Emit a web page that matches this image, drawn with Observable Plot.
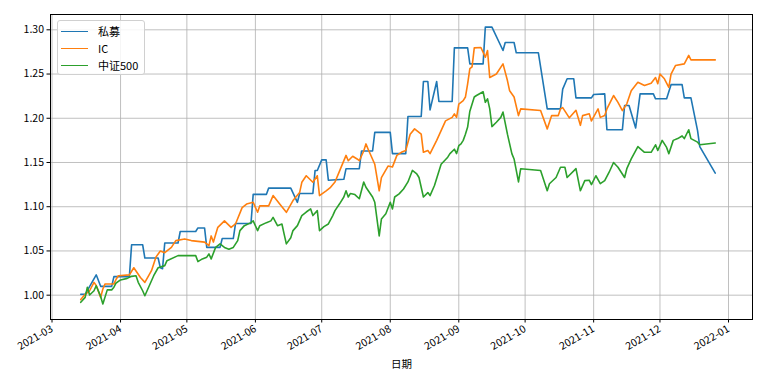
<!DOCTYPE html>
<html>
<head>
<meta charset="utf-8">
<script src="https://cdn.jsdelivr.net/npm/d3@7"></script>
<script src="https://cdn.jsdelivr.net/npm/@observablehq/plot@0.6"></script>
<style>
  html, body { margin: 0; padding: 0; background: white; }
  #wrap { position: relative; width: 780px; height: 371px; overflow: hidden; }
  #legend {
    position: absolute; left: 57px; top: 20px; width: 88px; height: 55px;
    box-sizing: border-box; border: 1px solid #d0d0d0; border-radius: 3px;
    background: rgba(255,255,255,0.85);
    font-family: "Noto Sans CJK SC", sans-serif; font-size: 11px; color: #000;
  }
  .row { position: absolute; left: 0; height: 14px; display: flex; align-items: center; }
  .sw { width: 27px; height: 0; border-top: 1.6px solid; margin-left: 3px; margin-right: 10px; }
</style>
</head>
<body>
<div id="wrap"><div id="chart"></div><div id="legend"></div></div>
<script>
// Series names and colours
const seriesNames = ["私募", "IC", "中证500"];
const seriesColors = ["#1f77b4", "#ff7f0e", "#2ca02c"];

// Day offsets from 2021-03-01 and values
const pmDays = [13,15,20,22,27,28,35,36,41,42,48,49,50,51,57,58,65,66,69,70,76,77,82,83,90,91,97,98,108,111,112,118,119,120,122,124,125,132,133,139,140,145,146,153,154,160,161,167,168,170,171,174,175,181,182,188,189,195,196,199,204,205,209,210,220,224,230,231,233,236,237,244,245,250,251,258,259,261,264,266,272,273,278,280,285,286,289,292,293,300];
const pmValues = [1.001,1.001,1.023,1.010,1.010,1.021,1.021,1.057,1.057,1.042,1.042,1.031,1.030,1.059,1.059,1.072,1.072,1.076,1.076,1.054,1.054,1.064,1.064,1.081,1.081,1.114,1.114,1.121,1.121,1.105,1.115,1.115,1.141,1.141,1.153,1.153,1.130,1.131,1.143,1.143,1.163,1.163,1.184,1.184,1.160,1.160,1.202,1.202,1.2415,1.2415,1.2095,1.2415,1.219,1.219,1.2796,1.2796,1.2615,1.2615,1.303,1.303,1.2766,1.2856,1.2856,1.274,1.274,1.2106,1.2106,1.233,1.2446,1.2446,1.223,1.223,1.2268,1.2276,1.187,1.187,1.2144,1.2144,1.189,1.2276,1.2276,1.222,1.222,1.238,1.238,1.223,1.223,1.186,1.168,1.138];

const icDays = [13,15,17,19,20,22,23,24,28,29,30,35,37,40,42,45,47,49,51,54,56,60,63,69,71,72,73,75,78,81,83,86,88,91,93,94,98,100,103,106,109,112,113,115,118,120,121,124,126,128,130,133,134,136,138,139,141,142,143,146,148,149,152,154,156,158,160,162,164,167,168,170,171,174,176,178,181,182,183,184,186,187,188,189,190,191,194,196,197,198,201,204,206,207,209,211,212,221,224,225,226,229,230,231,234,237,239,240,243,244,247,248,250,251,254,256,258,260,262,265,268,271,273,274,275,277,279,280,282,286,288,289,300];
const icValues = [0.995,1.001,1.005,1.0145,1.011,0.9975,1.007,1.0127,1.0127,1.018,1.022,1.023,1.031,1.020,1.0145,1.0277,1.043,1.050,1.048,1.054,1.0617,1.0636,1.0617,1.060,1.056,1.067,1.060,1.0767,1.084,1.0767,1.0805,1.099,1.103,1.105,1.0937,1.101,1.101,1.1126,1.103,1.0937,1.107,1.116,1.1276,1.135,1.1276,1.135,1.1126,1.118,1.122,1.128,1.140,1.158,1.152,1.157,1.154,1.152,1.163,1.171,1.165,1.148,1.118,1.133,1.146,1.145,1.158,1.1615,1.1635,1.182,1.188,1.182,1.1615,1.1635,1.160,1.175,1.186,1.197,1.201,1.205,1.201,1.216,1.220,1.224,1.239,1.256,1.258,1.2796,1.280,1.269,1.2766,1.246,1.250,1.2615,1.2426,1.231,1.224,1.203,1.2106,1.2087,1.188,1.1955,1.203,1.203,1.2106,1.212,1.2005,1.209,1.192,1.203,1.205,1.197,1.2106,1.201,1.203,1.2106,1.2257,1.218,1.2087,1.2163,1.231,1.2407,1.237,1.2396,1.246,1.239,1.250,1.2446,1.235,1.250,1.2596,1.2615,1.271,1.266,1.266];

const csiDays = [13,15,16,17,19,20,22,23,25,27,28,29,31,34,36,38,39,41,42,43,46,48,51,52,57,61,65,66,68,70,71,72,74,76,78,80,82,84,85,87,90,91,93,94,97,99,100,102,104,105,106,108,109,111,113,115,117,118,120,121,123,125,127,128,130,132,133,134,135,137,139,141,142,145,146,148,149,151,153,154,155,157,159,161,163,165,166,168,170,171,173,176,179,180,182,183,184,185,186,187,188,189,191,192,195,196,197,198,199,201,203,204,206,208,209,211,212,221,224,225,228,230,232,233,237,239,241,243,244,246,248,250,252,254,256,259,260,262,265,268,271,273,274,276,278,279,281,283,285,286,288,289,292,293,300];
const csiValues = [0.9919,0.9975,1.009,1.0002,1.005,1.0107,0.9986,0.990,1.006,1.006,1.009,1.0138,1.0172,1.019,1.0213,1.022,1.0145,1.005,0.9994,1.005,1.022,1.031,1.0334,1.039,1.0447,1.0447,1.0447,1.038,1.041,1.043,1.0466,1.041,1.054,1.058,1.054,1.052,1.054,1.0617,1.073,1.0786,1.082,1.084,1.073,1.0786,1.082,1.084,1.088,1.0786,1.0805,1.069,1.058,1.065,1.073,1.0786,1.090,1.094,1.0975,1.090,1.0956,1.073,1.0775,1.0805,1.090,1.0956,1.103,1.111,1.118,1.111,1.115,1.1137,1.109,1.128,1.122,1.111,1.105,1.067,1.086,1.092,1.105,1.0975,1.111,1.1145,1.120,1.128,1.141,1.137,1.133,1.111,1.116,1.1126,1.124,1.148,1.156,1.160,1.165,1.160,1.169,1.171,1.175,1.182,1.190,1.208,1.224,1.2257,1.230,1.218,1.222,1.2106,1.1906,1.1955,1.201,1.207,1.182,1.160,1.154,1.128,1.143,1.141,1.118,1.126,1.133,1.1446,1.1446,1.133,1.143,1.118,1.1295,1.130,1.125,1.135,1.126,1.1295,1.139,1.150,1.1446,1.133,1.143,1.154,1.168,1.1615,1.1615,1.170,1.1635,1.175,1.167,1.160,1.175,1.177,1.180,1.177,1.187,1.177,1.173,1.170,1.172];

// Axis ticks
const yTicks = [1.00, 1.05, 1.10, 1.15, 1.20, 1.25, 1.30];
const xTickMonths = ["2021-03","2021-04","2021-05","2021-06","2021-07","2021-08","2021-09","2021-10","2021-11","2021-12","2022-01"];
const xLabel = "日期";

const base = Date.UTC(2021, 2, 1);
const dayToDate = d => new Date(base + d * 864e5);
const parseMonth = d3.utcParse("%Y-%m");
const xTicks = xTickMonths.map(parseMonth);

const rows = [];
[[pmDays, pmValues], [icDays, icValues], [csiDays, csiValues]].forEach(([days, vals], k) => {
  days.forEach((d, i) => rows.push({date: dayToDate(d), value: vals[i], series: seriesNames[k]}));
});

const gridStyle = {stroke: "#b0b0b0", strokeOpacity: 1, strokeWidth: 0.8};

const chart = Plot.plot({
  width: 780, height: 371,
  marginLeft: 50, marginRight: 28, marginTop: 14, marginBottom: 52,
  style: {fontFamily: "'Noto Sans CJK SC', sans-serif", fontSize: "10.5px", background: "white", color: "#000"},
  x: {type: "utc", domain: [dayToDate(-0.68), dayToDate(316.85)]},
  y: {domain: [0.9725, 1.3173]},
  color: {domain: seriesNames, range: seriesColors},
  marks: [
    Plot.gridX(xTicks, gridStyle),
    Plot.gridY(yTicks, gridStyle),
    Plot.line(rows, {x: "date", y: "value", z: "series", stroke: "series", strokeWidth: 1.6, curve: "linear"}),
    Plot.frame({stroke: "#000", strokeWidth: 1}),
    Plot.axisY(yTicks, {tickFormat: d3.format(".2f"), tickSize: 3.5, tickPadding: 3, label: null}),
    Plot.axisX(xTicks, {tickFormat: d3.utcFormat("%Y-%m"), tickRotate: -30, tickSize: 3.5, tickPadding: 5,
      label: xLabel, labelAnchor: "center", labelArrow: "none", labelOffset: 48})
  ]
});
document.getElementById("chart").appendChild(chart);

// Legend
const legend = document.getElementById("legend");
seriesNames.forEach((name, i) => {
  const row = document.createElement("div");
  row.className = "row";
  row.style.top = (3 + i * 17) + "px";
  const sw = document.createElement("span");
  sw.className = "sw";
  sw.style.borderTopColor = seriesColors[i];
  const tx = document.createElement("span");
  tx.textContent = name;
  row.appendChild(sw); row.appendChild(tx);
  legend.appendChild(row);
});
</script>
</body>
</html>
